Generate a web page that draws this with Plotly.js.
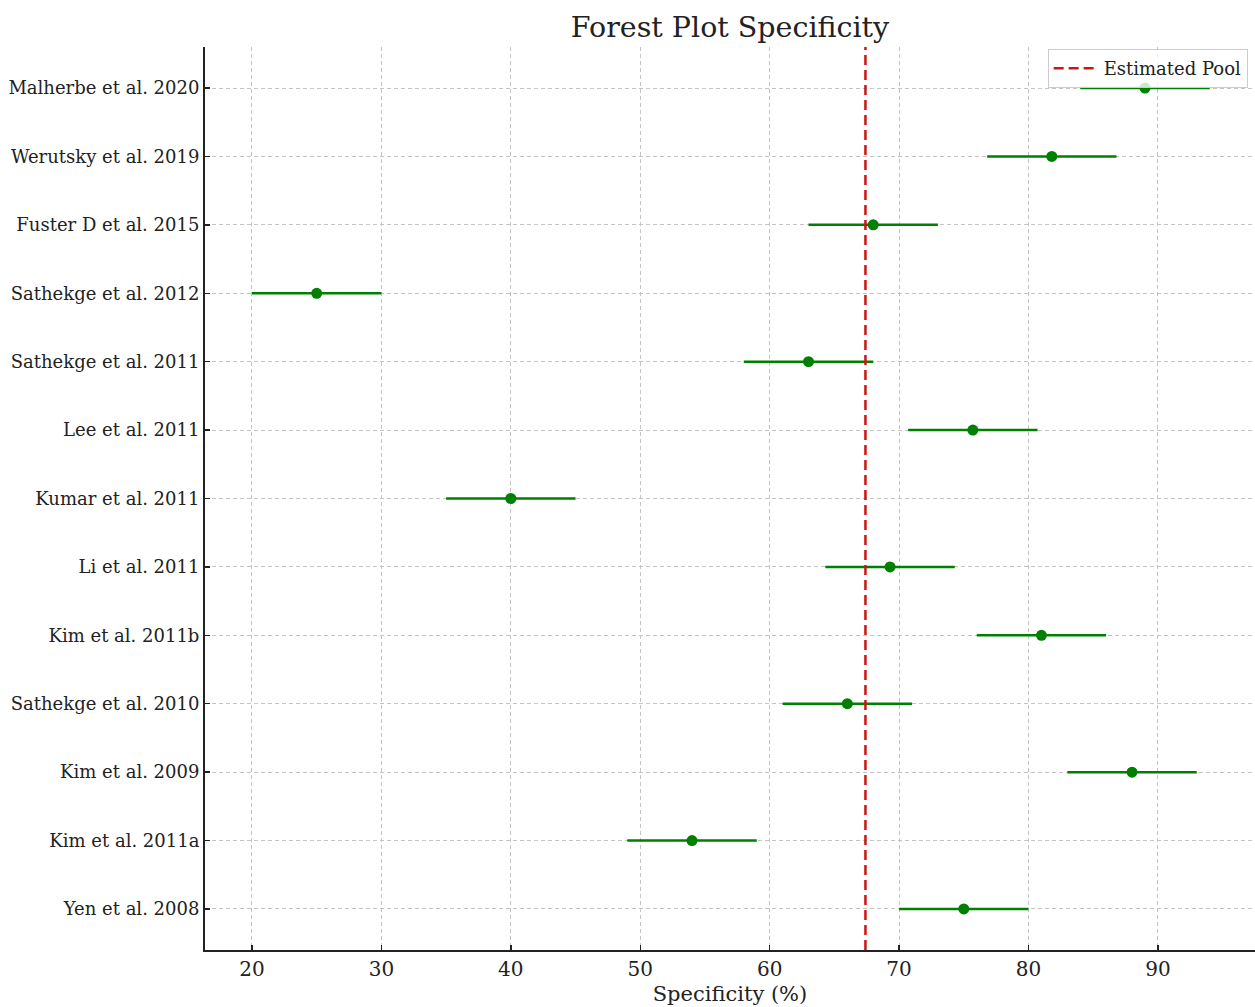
<!DOCTYPE html>
<html>
<head>
<meta charset="utf-8">
<script src="https://cdn.plot.ly/plotly-3.0.1.min.js"></script>
<style>html,body{margin:0;padding:0;background:#fff;}#chart{width:1255px;height:1007px;}</style>
</head>
<body>
<div id="chart"></div>
<script>
// Studies listed bottom to top
const studies = ["Yen et al. 2008","Kim et al. 2011a","Kim et al. 2009","Sathekge et al. 2010","Kim et al. 2011b","Li et al. 2011","Kumar et al. 2011","Lee et al. 2011","Sathekge et al. 2011","Sathekge et al. 2012","Fuster D et al. 2015","Werutsky et al. 2019","Malherbe et al. 2020"];
const specificity = [75, 54, 88, 66, 81, 69.3, 40, 75.7, 63, 25, 68, 81.8, 89];
const ciLower = [70, 49, 83, 61, 76, 64.3, 35, 70.7, 58, 20, 63, 76.8, 84];
const ciUpper = [80, 59, 93, 71, 86, 74.3, 45, 80.7, 68, 30, 73, 86.8, 94];
const pooledEstimate = 67.4;
const xTicks = [20, 30, 40, 50, 60, 70, 80, 90];

const pos = studies.map((_, i) => i);
const errPlus = specificity.map((v, i) => ciUpper[i] - v);
const errMinus = specificity.map((v, i) => v - ciLower[i]);
const font = "DejaVu Serif, serif";

const traces = [
  {
    type: "scatter", mode: "markers", x: specificity, y: pos, showlegend: false,
    marker: {color: "green", size: 11},
    error_x: {type: "data", symmetric: false, array: errPlus, arrayminus: errMinus, color: "green", thickness: 2.5, width: 0}
  },
  {
    type: "scatter", mode: "lines", x: [pooledEstimate, pooledEstimate], y: [-0.6, 12.6],
    name: "Estimated Pool", line: {color: "#cc1515", width: 2.5, dash: "10px,5px"}
  }
];

const layout = {
  width: 1255, height: 1007,
  margin: {l: 205, r: 0, t: 47, b: 57},
  paper_bgcolor: "#fff", plot_bgcolor: "#fff",
  font: {family: font, color: "#222"},
  title: {text: "Forest Plot Specificity", font: {family: font, size: 28.5, color: "#222"}, x: 0.5817, xanchor: "center", y: 0.973, yref: "container", yanchor: "middle"},
  xaxis: {
    range: [16.37, 97.5], tickvals: xTicks, ticktext: xTicks.map(String),
    ticks: "inside", ticklen: 5, tickwidth: 1.5, tickcolor: "#222",
    showline: true, linecolor: "#222", linewidth: 2, mirror: false,
    showgrid: true, gridcolor: "#c4c4c4", gridwidth: 1, griddash: "4px,3px",
    zeroline: false, tickfont: {family: font, size: 20, color: "#222"},
    title: {text: "Specificity (%)", font: {family: font, size: 21, color: "#222"}, standoff: 6}
  },
  yaxis: {
    range: [-0.6, 12.6], tickvals: pos, ticktext: studies,
    ticks: "inside", ticklen: 5, tickwidth: 1.5, tickcolor: "#222",
    showline: true, linecolor: "#222", linewidth: 2, mirror: false,
    showgrid: true, gridcolor: "#c4c4c4", gridwidth: 1, griddash: "4px,3px",
    zeroline: false, tickfont: {family: font, size: 18, color: "#222"}
  },
  legend: {
    x: 0.993, xanchor: "right", y: 0.9546, yanchor: "bottom",
    bgcolor: "rgba(255,255,255,0.8)", bordercolor: "#cccccc", borderwidth: 1,
    itemwidth: 45,
    font: {family: font, size: 18, color: "#222"}
  },
  showlegend: true
};

Plotly.newPlot("chart", traces, layout, {displayModeBar: false, staticPlot: true});
</script>
</body>
</html>
